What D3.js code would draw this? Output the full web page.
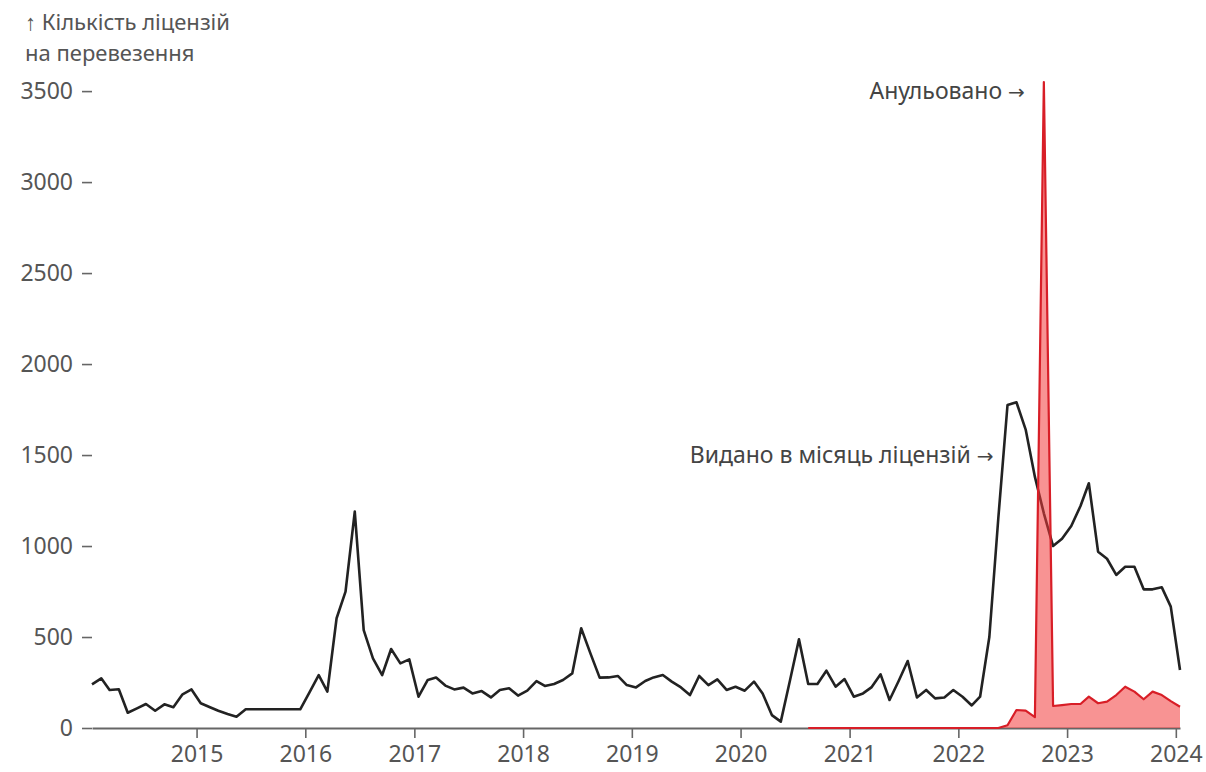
<!DOCTYPE html>
<meta charset="utf-8">
<html lang="uk"></html>

<!-- load d3.js -->
<script src="https://d3js.org/d3.v7.min.js"></script>

<style>
    body { margin: 0; background: #fff; }
    svg text { font-family: "Noto Sans", "Open Sans", sans-serif; }
    .arrow { font-family: "DejaVu Sans", sans-serif; }
</style>

<div id="chart"></div>

<script>

    // licences issued per month, Jan 2014 .. Jan 2024
    const issuedStart = "2014-01-15";
    const issued = [
        240, 273, 209, 213, 84, 108, 132, 95, 130, 114, 185, 212,
        136, 114, 95, 77, 62, 103, 103, 103, 103, 103, 103, 103,
        196, 291, 200, 603, 749, 1189, 538, 383, 291, 434, 355, 377,
        172, 264, 277, 233, 212, 222, 190, 203, 168, 209, 218, 178,
        205, 258, 231, 242, 264, 300, 548, 410, 277, 278, 286, 236,
        223, 258, 278, 291, 255, 223, 181, 286, 236, 267, 209, 227,
        205, 255, 190, 71, 35, 262, 487, 242, 242, 315, 227, 269,
        172, 190, 223, 295, 154, 260, 368, 168, 209, 163, 168, 209,
        172, 124, 172, 500, 1150, 1775, 1790, 1640, 1380, 1180, 1000, 1040,
        1110, 1220, 1345, 969, 930, 841, 886, 886, 762, 762, 773, 667,
        319
    ];

    // licences annulled per month, Aug 2020 .. Jan 2024
    const annulledStart = "2020-08-15";
    const annulled = [
        0, 0, 0, 0, 0,
        0, 0, 0, 0, 0, 0, 0, 0, 0, 0, 0, 0,
        0, 0, 0, 0, 0, 15, 99, 95, 60, 3550, 121, 126,
        132, 132, 172, 136, 145, 181, 227, 200, 158, 200, 181, 148,
        117
    ];

    const yTicks = [0, 500, 1000, 1500, 2000, 2500, 3000, 3500];
    const xTicks = ["2015", "2016", "2017", "2018", "2019", "2020", "2021", "2022", "2023", "2024"];
    const yTitle = ["↑ Кількість ліцензій", "на перевезення"];
    const issuedLabel = "Видано в місяць ліцензій";
    const annulledLabel = "Анульовано";

    // dimensions
    const width = 1206, height = 772;
    const margin = {top: 82, right: 26, bottom: 44, left: 92};
    const fontSize = 23;

    const parse = d3.utcParse("%Y-%m-%d");
    const issuedData = issued.map((v, i) => ({date: d3.utcMonth.offset(parse(issuedStart), i), value: v}));
    const annulledData = annulled.map((v, i) => ({date: d3.utcMonth.offset(parse(annulledStart), i), value: v}));

    const svg = d3.select("#chart")
        .append("svg")
            .attr("width", width)
            .attr("height", height)
            .attr("viewBox", [0, 0, width, height]);

    // scales
    const x = d3.scaleUtc()
        .domain(d3.extent(issuedData, d => d.date))
        .range([margin.left, width - margin.right]);

    const y = d3.scaleLinear()
        .domain([0, d3.max(annulled)])
        .range([height - margin.bottom, margin.top]);

    // Y axis (ticks only)
    svg.append("g")
        .attr("transform", "translate(" + margin.left + ",0)")
        .call(d3.axisLeft(y).tickValues(yTicks).tickFormat(d3.format("d")).tickSize(10).tickPadding(9))
        .call(g => g.select(".domain").remove())
        .call(g => g.selectAll("line").attr("stroke", "#666").attr("stroke-width", 1.6))
        .call(g => g.selectAll("text")
            .attr("font-size", fontSize)
            .attr("fill", "#555"));

    // Y axis title, two lines
    svg.selectAll(".ytitle")
        .data(yTitle)
        .join("text")
            .attr("class", "ytitle")
            .attr("x", 25)
            .attr("y", (d, i) => 30 + i * 31)
            .attr("font-size", 22)
            .attr("fill", "#555")
            .text(d => d);

    // issued line
    const line = d3.line()
        .x(d => x(d.date))
        .y(d => y(d.value));

    svg.append("path")
        .datum(issuedData)
        .attr("fill", "none")
        .attr("stroke", "#222")
        .attr("stroke-width", 2.6)
        .attr("stroke-linejoin", "round")
        .attr("d", line);

    // X axis
    svg.append("g")
        .attr("transform", "translate(0," + y(0) + ")")
        .call(d3.axisBottom(x)
            .tickValues(xTicks.map(t => parse(t + "-01-01")))
            .tickFormat(d3.utcFormat("%Y"))
            .tickSize(10)
            .tickSizeOuter(0)
            .tickPadding(8))
        .call(g => g.select(".domain").attr("stroke", "#666").attr("stroke-width", 1.8))
        .call(g => g.selectAll("line").attr("stroke", "#666").attr("stroke-width", 1.6))
        .call(g => g.selectAll("text")
            .attr("font-size", fontSize)
            .attr("fill", "#555"));

    // annulled area + line
    svg.append("path")
        .datum(annulledData)
        .attr("fill", "#f23b3b")
        .attr("fill-opacity", 0.55)
        .attr("d", d3.area()
            .x(d => x(d.date))
            .y0(y(0))
            .y1(d => y(d.value)));

    svg.append("path")
        .datum(annulledData)
        .attr("fill", "none")
        .attr("stroke", "#d81e27")
        .attr("stroke-width", 2.2)
        .attr("stroke-linejoin", "round")
        .attr("d", line);

    // annotations
    function note(label, px, py) {
        const t = svg.append("text")
            .attr("x", px)
            .attr("y", py)
            .attr("dy", "0.35em")
            .attr("text-anchor", "end")
            .attr("font-size", fontSize)
            .attr("fill", "#444");
        t.append("tspan").text(label + " ");
        t.append("tspan").attr("class", "arrow").attr("font-size", 20).text("→");
    }
    note(issuedLabel, x(issuedData[101].date) - 14, y(1500));
    note(annulledLabel, x(annulledData[26].date) - 19, y(3500));

</script>
